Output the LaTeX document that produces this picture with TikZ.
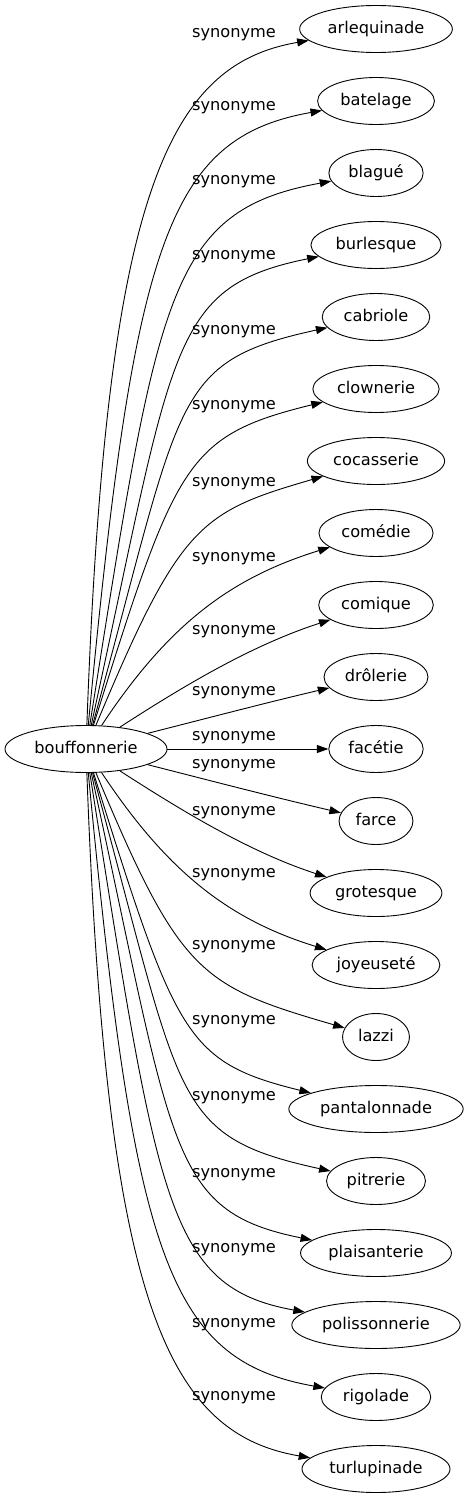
\documentclass[tikz,border=0pt]{standalone}
\usepackage{fontspec}
\setmainfont{DejaVu Sans}
\usetikzlibrary{shapes.geometric,arrows.meta}

\begin{document}
\begin{tikzpicture}[x=1pt,y=-1pt,font=\fontsize{16.2}{19}\selectfont,
  word/.style={draw,ellipse,line width=0.9pt,minimum height=47pt,inner xsep=5.7pt,inner ysep=2pt,text height=12pt,text depth=3.5pt},
  syn/.style={-{Triangle[length=11.5pt,width=8pt]},line width=0.9pt},
  lbl/.style={inner sep=0pt,text height=12pt,text depth=3.5pt}]

\useasboundingbox (0,0) rectangle (465,1499);

% the word and its synonyms
\node[word] (bouffonnerie) at (86,749) {bouffonnerie};

\node[word] (arlequinade) at (376,29) {arlequinade};
\node[word] (batelage) at (376,101) {batelage};
\node[word] (blague) at (376,173) {blagué};
\node[word] (burlesque) at (376,245) {burlesque};
\node[word] (cabriole) at (376,317) {cabriole};
\node[word] (clownerie) at (376,389) {clownerie};
\node[word] (cocasserie) at (376,461) {cocasserie};
\node[word] (comedie) at (376,533) {comédie};
\node[word] (comique) at (376,605) {comique};
\node[word] (drolerie) at (376,677) {drôlerie};
\node[word] (facetie) at (376,749) {facétie};
\node[word] (farce) at (376,821) {farce};
\node[word] (grotesque) at (376,893) {grotesque};
\node[word] (joyeusete) at (376,965) {joyeuseté};
\node[word] (lazzi) at (376,1037) {lazzi};
\node[word] (pantalonnade) at (376,1109) {pantalonnade};
\node[word] (pitrerie) at (376,1181) {pitrerie};
\node[word] (plaisanterie) at (376,1253) {plaisanterie};
\node[word] (polissonnerie) at (376,1325) {polissonnerie};
\node[word] (rigolade) at (376,1397) {rigolade};
\node[word] (turlupinade) at (376,1469) {turlupinade};

% edges
\draw[syn] (bouffonnerie) .. controls (106,200) and (165,65) .. (arlequinade);
\draw[syn] (bouffonnerie) .. controls (134,246) and (166,138) .. (batelage);
\draw[syn] (bouffonnerie) .. controls (158,295) and (167,211) .. (blague);
\draw[syn] (bouffonnerie) .. controls (174,347) and (168,287) .. (burlesque);
\draw[syn] (bouffonnerie) .. controls (183,396) and (170,362) .. (cabriole);
\draw[syn] (bouffonnerie) .. controls (176,462) and (185,436) .. (clownerie);
\draw[syn] (bouffonnerie) .. controls (180,524) and (200,512) .. (cocasserie);
\draw[syn] (bouffonnerie) .. controls (168,625) and (230,578) .. (comedie);
\draw[syn] (bouffonnerie) .. controls (179,689) and (249,646) .. (comique);
\draw[syn] (bouffonnerie) .. controls (208,718) and (269,702) .. (drolerie);
\draw[syn] (bouffonnerie) -- (facetie);
\draw[syn] (bouffonnerie) .. controls (208,780) and (269,796) .. (farce);
\draw[syn] (bouffonnerie) .. controls (179,809) and (249,852) .. (grotesque);
\draw[syn] (bouffonnerie) .. controls (168,873) and (230,920) .. (joyeusete);
\draw[syn] (bouffonnerie) .. controls (180,974) and (200,986) .. (lazzi);
\draw[syn] (bouffonnerie) .. controls (176,1036) and (185,1062) .. (pantalonnade);
\draw[syn] (bouffonnerie) .. controls (183,1102) and (170,1136) .. (pitrerie);
\draw[syn] (bouffonnerie) .. controls (174,1151) and (168,1211) .. (plaisanterie);
\draw[syn] (bouffonnerie) .. controls (158,1203) and (167,1287) .. (polissonnerie);
\draw[syn] (bouffonnerie) .. controls (134,1252) and (166,1360) .. (rigolade);
\draw[syn] (bouffonnerie) .. controls (106,1298) and (165,1433) .. (turlupinade);

% labels
\node[lbl] (l1) at (234,33) {synonyme};
\node[lbl] (l2) at (234,106) {synonyme};
\node[lbl] (l3) at (234,180) {synonyme};
\node[lbl] (l4) at (234,255) {synonyme};
\node[lbl] (l5) at (234,330) {synonyme};
\node[lbl] (l6) at (234,405) {synonyme};
\node[lbl] (l7) at (234,482) {synonyme};
\node[lbl] (l8) at (234,557) {synonyme};
\node[lbl] (l9) at (234,630) {synonyme};
\node[lbl] (l10) at (234,691) {synonyme};
\node[lbl] (l11) at (234,736) {synonyme};
\node[lbl] (l12) at (234,764) {synonyme};
\node[lbl] (l13) at (234,811) {synonyme};
\node[lbl] (l14) at (234,873) {synonyme};
\node[lbl] (l15) at (234,945) {synonyme};
\node[lbl] (l16) at (234,1020) {synonyme};
\node[lbl] (l17) at (234,1096) {synonyme};
\node[lbl] (l18) at (234,1173) {synonyme};
\node[lbl] (l19) at (234,1248) {synonyme};
\node[lbl] (l20) at (234,1323) {synonyme};
\node[lbl] (l21) at (234,1396) {synonyme};

\end{tikzpicture}
\end{document}
